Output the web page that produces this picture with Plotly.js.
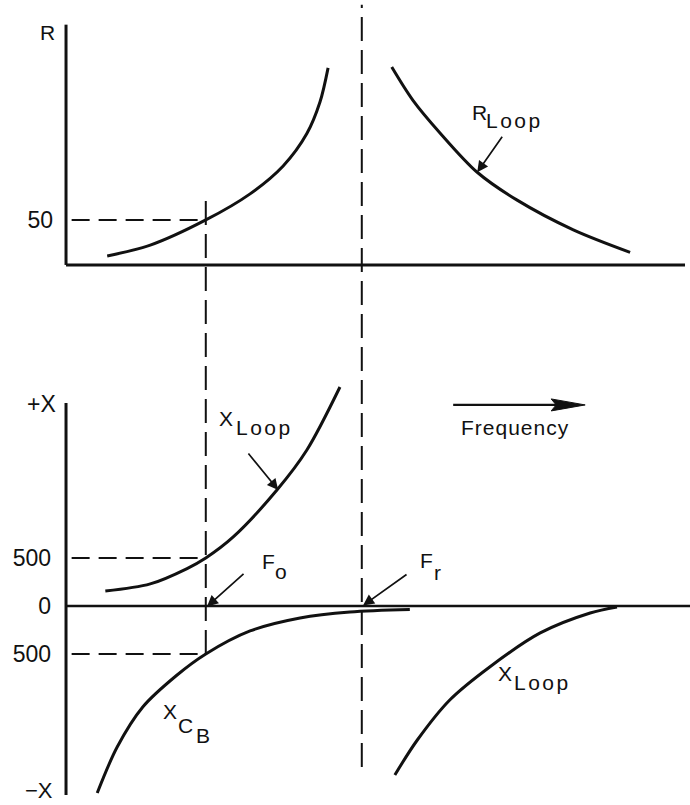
<!DOCTYPE html>
<html>
<head>
<meta charset="utf-8">
<script src="https://cdn.plot.ly/plotly-3.0.1.min.js"></script>
<style>html,body{margin:0;padding:0;background:#fff}</style>
</head>
<body>
<div id="chart" style="width:690px;height:805px"></div>
<script>
// Loop resistance and reactance versus frequency (arbitrary frequency units, ohms)

// Resistance of the loop, below and above the resonance
const freqRBelow = [6.6, 13.5, 22.4, 29.5, 34.8, 38.6, 40.7, 42.0];
const rBelow     = [10, 22, 50, 79, 110, 146, 181, 219];
const freqRAbove = [52.2, 55.6, 59.9, 65.9, 72.3, 81.3, 90.4];
const rAbove     = [220, 183, 147, 103, 72, 39, 14];

// Inductive reactance of the loop below resonance
const freqXLoopBelow = [6.3, 13.5, 19.4, 22.4, 26.8, 33.8, 38.6, 43.9];
const xLoopBelow     = [156, 230, 390, 500, 719, 1208, 1625, 2281];

// Reactance of the tuning capacitor C_B
const freqXcb = [5.0, 8.2, 12.3, 17.8, 22.4, 29.5, 37.5, 45.5, 55.1];
const xCb     = [-1948, -1469, -1052, -719, -500, -260, -125, -62, -36];

// Capacitive reactance of the loop above resonance
const freqXLoopAbove = [52.7, 56.3, 61.5, 67.9, 76.0, 84.0, 88.3];
const xLoopAbove     = [-1760, -1396, -979, -635, -281, -73, -10];

// Operating and self-resonant frequencies
const F_O = 22.4;
const F_R = 47.4;
const R_AT_FO = 50;
const X_AT_FO = 500;

// Axis ticks
const rTickVals = [50];
const rTickText = ['50'];
const xTickVals = [500, 0, -500];
const xTickText = ['500', '0', '500'];

// Axis geometry (ranges chosen so both panels share one frequency scale)
const freqRange = [-10.58, 100];
const rRange = [-16.7, 294.4];
const rDomain = [0.6522, 1];
const xRange = [-2073, 2458];
const xDomain = [0, 0.5404];
const rAxisTop = 267;
const freqAxisEnd = 99.2;
const xAxisTop = 2115;
const xAxisBottom = -1969;

// pixels per data unit, used to size the direction arrow
const PX_PER_FREQ = 690 / (freqRange[1] - freqRange[0]);
const PX_PER_X = 805 * (xDomain[1] - xDomain[0]) / (xRange[1] - xRange[0]);

const INK = '#111';
const FONT = 'Liberation Sans, Arial, Helvetica, sans-serif';

function toPaper(v, range, domain) {
  return domain[0] + (v - range[0]) / (range[1] - range[0]) * (domain[1] - domain[0]);
}

function curve(x, y, yaxis) {
  return {
    x: x, y: y, yaxis: yaxis, xaxis: 'x',
    type: 'scatter', mode: 'lines',
    line: {color: INK, width: 3, shape: 'spline', smoothing: 0.9},
    hoverinfo: 'skip'
  };
}

const traces = [
  curve(freqRBelow, rBelow, 'y'),
  curve(freqRAbove, rAbove, 'y'),
  curve(freqXLoopBelow, xLoopBelow, 'y2'),
  curve(freqXcb, xCb, 'y2'),
  curve(freqXLoopAbove, xLoopAbove, 'y2')
];

const solid = (w) => ({color: INK, width: w});
const dashH = {color: INK, width: 2, dash: '18px,9px'};
const dashV = {color: INK, width: 2, dash: '24px,9px'};

// "Frequency" direction arrow: shaft plus a long narrow head
const arrowTip = {f: 83.2, x: 2094};
const arrowLenPx = 132, headLenPx = 34, headHalfPx = 6;
const headBase = arrowTip.f - headLenPx / PX_PER_FREQ;
const headNotch = arrowTip.f - (headLenPx - 5) / PX_PER_FREQ;
const headHalf = headHalfPx / PX_PER_X;
const headPath = 'M' + headBase + ',' + (arrowTip.x + headHalf) +
  ' L' + arrowTip.f + ',' + arrowTip.x +
  ' L' + headBase + ',' + (arrowTip.x - headHalf) +
  ' L' + headNotch + ',' + arrowTip.x + ' Z';

const shapes = [
  // axis lines
  {type: 'line', xref: 'x', yref: 'y', x0: 0, x1: 0, y0: 0, y1: rAxisTop, line: solid(3)},
  {type: 'line', xref: 'x', yref: 'y', x0: 0, x1: freqAxisEnd, y0: 0, y1: 0, line: solid(3)},
  {type: 'line', xref: 'x', yref: 'y2', x0: 0, x1: 0, y0: xAxisBottom, y1: xAxisTop, line: solid(3)},
  {type: 'line', xref: 'x', yref: 'y2', x0: 0, x1: freqRange[1], y0: 0, y1: 0, line: solid(2.5)},
  // read-off lines at the operating frequency
  {type: 'line', xref: 'x', yref: 'y', x0: 0.9, x1: F_O, y0: R_AT_FO, y1: R_AT_FO, line: dashH},
  {type: 'line', xref: 'x', yref: 'y2', x0: 0.9, x1: F_O, y0: X_AT_FO, y1: X_AT_FO, line: dashH},
  {type: 'line', xref: 'x', yref: 'y2', x0: 0.9, x1: F_O, y0: -X_AT_FO, y1: -X_AT_FO, line: dashH},
  {type: 'line', xref: 'x', yref: 'paper', x0: F_O, x1: F_O,
   y0: toPaper(-X_AT_FO, xRange, xDomain), y1: toPaper(75, rRange, rDomain), line: dashV},
  {type: 'line', xref: 'x', yref: 'paper', x0: F_R, x1: F_R,
   y0: toPaper(-1677, xRange, xDomain), y1: toPaper(289, rRange, rDomain), line: dashV},
  // direction arrow
  {type: 'line', xref: 'x', yref: 'y2', x0: arrowTip.f - arrowLenPx / PX_PER_FREQ, x1: headNotch + 0.3,
   y0: arrowTip.x, y1: arrowTip.x, line: solid(2.2)},
  {type: 'path', xref: 'x', yref: 'y2', path: headPath, fillcolor: INK, line: {color: INK, width: 1}}
];

function label(text, x, y, yref, size, spacing) {
  const t = spacing ? '<span style="letter-spacing:' + spacing + 'px">' + text + '</span>' : text;
  return {text: t, x: x, y: y, xref: 'x', yref: yref, showarrow: false,
          xanchor: 'center', yanchor: 'middle',
          font: {family: FONT, size: size || 21, color: INK}};
}
function pointer(x, y, yref, ax, ay) {
  return {text: '', x: x, y: y, xref: 'x', yref: yref, showarrow: true,
          ax: ax, ay: ay, arrowhead: 2, arrowsize: 1.3, arrowwidth: 1.7,
          arrowcolor: INK, standoff: 0, startstandoff: 0};
}

const annotations = [
  // axis end labels
  label('R', -3.0, 258, 'y', 21),
  label('+X', -4.0, 2104, 'y2', 23),
  label('\u2212X', -4.3, -1927, 'y2', 22),
  // R_Loop
  label('R', 66.3, 169, 'y'),
  label('Loop', 71.8, 160, 'y', 21, 2.5),
  pointer(65.9, 103, 'y', 26, -37),
  // X_Loop below resonance
  label('X', 25.6, 1948, 'y2'),
  label('Loop', 31.8, 1854, 'y2', 21, 2.5),
  pointer(34.0, 1208, 'y2', -31, -38),
  // F_o
  label('F', 32.4, 458, 'y2'),
  label('o', 34.5, 354, 'y2'),
  pointer(22.6, -5, 'y2', 38, -34),
  // F_r
  label('F', 57.7, 469, 'y2'),
  label('r', 59.6, 344, 'y2'),
  pointer(47.6, 5, 'y2', 45, -32),
  // X_CB
  label('X', 16.7, -1099, 'y2'),
  label('C', 19.1, -1245, 'y2'),
  label('B', 22.0, -1349, 'y2'),
  // X_Loop above resonance
  label('X', 70.3, -708, 'y2'),
  label('Loop', 76.3, -802, 'y2', 21, 2.5),
  // frequency direction
  label('Frequency', 72.0, 1854, 'y2', 21, 1)
];

const hidden = {showgrid: false, zeroline: false, showline: false, showticklabels: false, ticks: ''};

const layout = {
  width: 690, height: 805,
  margin: {l: 0, r: 0, t: 0, b: 0},
  paper_bgcolor: '#fff', plot_bgcolor: '#fff',
  showlegend: false,
  xaxis: Object.assign({}, hidden, {domain: [0, 1], range: freqRange, anchor: 'y2'}),
  yaxis: {domain: rDomain, range: rRange, anchor: 'free', position: 66 / 690,
          showgrid: false, zeroline: false, showline: false, ticks: '',
          tickvals: rTickVals, ticktext: rTickText, ticklabelstandoff: 13,
          tickfont: {family: FONT, size: 23, color: INK}},
  yaxis2: {domain: xDomain, range: xRange, anchor: 'free', position: 68 / 690,
           showgrid: false, zeroline: false, showline: false, ticks: '',
           tickvals: xTickVals, ticktext: xTickText, ticklabelstandoff: 17,
           tickfont: {family: FONT, size: 23, color: INK}},
  shapes: shapes,
  annotations: annotations
};

Plotly.newPlot('chart', traces, layout, {staticPlot: true, displayModeBar: false});
</script>
</body>
</html>
